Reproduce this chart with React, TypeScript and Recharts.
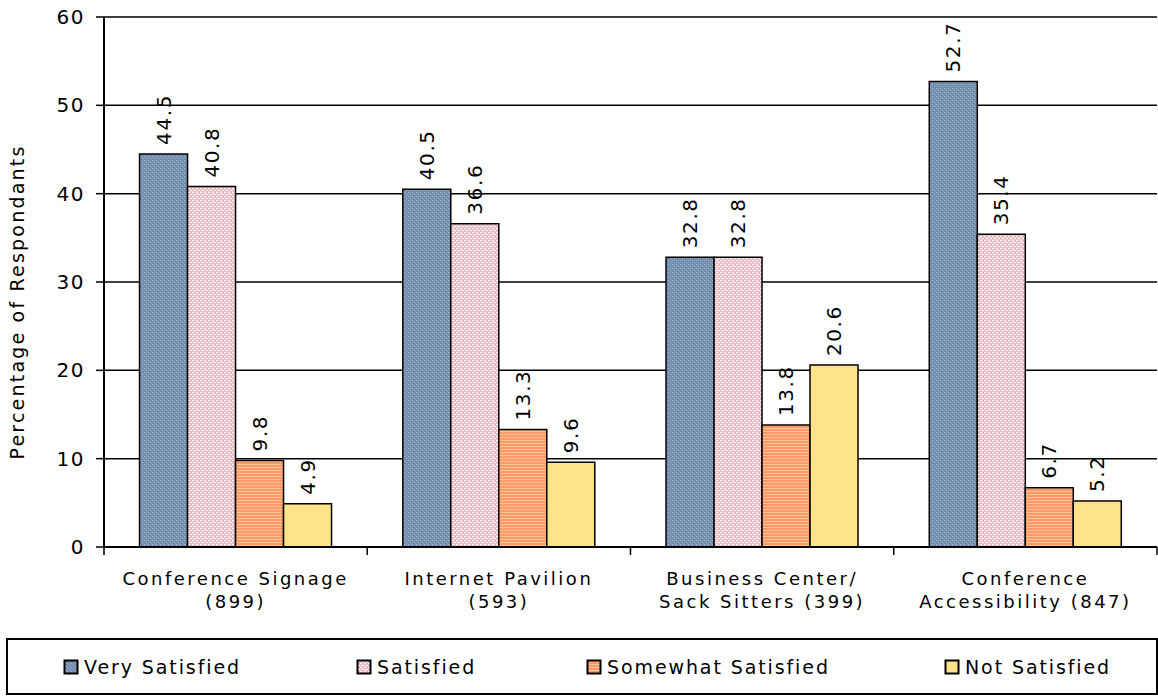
import React from 'react';
import { BarChart, Bar, XAxis, YAxis, CartesianGrid, Legend, LabelList } from 'recharts';

const categories = [
  'Conference Signage\n(899)',
  'Internet Pavilion\n(593)',
  'Business Center/\nSack Sitters (399)',
  'Conference\nAccessibility (847)',
];
const verySatisfied = [44.5, 40.5, 32.8, 52.7];
const satisfied = [40.8, 36.6, 32.8, 35.4];
const somewhatSatisfied = [9.8, 13.3, 13.8, 6.7];
const notSatisfied = [4.9, 9.6, 20.6, 5.2];
const yTicks = [0, 10, 20, 30, 40, 50, 60];
const seriesNames = ['Very Satisfied', 'Satisfied', 'Somewhat Satisfied', 'Not Satisfied'];
const seriesKeys = ['vs', 's', 'sw', 'ns'];
const seriesFills = ['url(#patBlue)', 'url(#patPink)', 'url(#patOrange)', '#FFE388'];

const data = categories.map((c, i) => ({
  name: c,
  vs: verySatisfied[i],
  s: satisfied[i],
  sw: somewhatSatisfied[i],
  ns: notSatisfied[i],
}));

const FONT = '"DejaVu Sans", Verdana, sans-serif';

const CatTick = (props: any) => {
  const { x, y, payload, width, visibleTicksCount, index } = props;
  const n = visibleTicksCount || categories.length;
  const band = (typeof width === 'number' ? width : 1053) / n;
  const lines = String(payload.value).split('\n');
  return (
    <g>
      <line x1={x - band / 2} x2={x - band / 2} y1={y} y2={y + 8} stroke="#000" strokeWidth={1.5} />
      {index === n - 1 && (
        <line x1={x + band / 2} x2={x + band / 2} y1={y} y2={y + 8} stroke="#000" strokeWidth={1.5} />
      )}
      <text x={x} y={y} textAnchor="middle" fontSize={18} fill="#000" fontFamily={FONT} style={{ letterSpacing: 2.5 }}>
        {lines.map((l, i) => (
          <tspan key={i} x={x} dy={i === 0 ? 38 : 23}>
            {l}
          </tspan>
        ))}
      </text>
    </g>
  );
};

const ValueLabel = (props: any) => {
  const { x, y, width, value } = props;
  const cx = x + width / 2;
  const cy = y - 9;
  return (
    <text
      x={cx}
      y={cy}
      transform={`rotate(-90 ${cx} ${cy})`}
      textAnchor="start"
      dominantBaseline="central"
      fontSize={20}
      fill="#000"
      fontFamily={FONT}
      style={{ letterSpacing: 1.6 }}
    >
      {Number(value).toFixed(1)}
    </text>
  );
};

const legendItemLeft = [55, 348, 578, 936];

const LegendBox = () => (
  <div
    style={{
      position: 'relative',
      width: '100%',
      height: '100%',
      border: '2px solid #000',
      boxSizing: 'border-box',
      fontFamily: FONT,
      fontSize: 19,
      color: '#000',
    }}
  >
    {seriesNames.map((n, i) => (
      <div
        key={n}
        style={{ position: 'absolute', left: legendItemLeft[i], top: 0, height: '100%', display: 'flex', alignItems: 'center' }}
      >
        <svg width={16} height={16} style={{ display: 'block' }}>
          <rect x={1.5} y={1.5} width={13} height={13} fill={seriesFills[i]} stroke="#000" strokeWidth={2} />
        </svg>
        <span style={{ marginLeft: 5, letterSpacing: 1.9 }}>{n}</span>
      </div>
    ))}
  </div>
);

export default function App() {
  return (
    <div style={{ position: 'absolute', left: 0, top: 0, width: 1158, height: 696, background: '#fff' }}>
      <BarChart
        width={1158}
        height={696}
        data={data}
        margin={{ top: 17, right: 1, left: 4, bottom: 79 }}
        barCategoryGap="13.5%"
        barGap={0}
      >
        <defs>
          <pattern id="patBlue" width="4" height="4" patternUnits="userSpaceOnUse">
            <rect width="4" height="4" fill="#7890B0" />
            <rect x="0" y="0" width="1" height="1" fill="#A9BBD2" />
            <rect x="2" y="2" width="1" height="1" fill="#A9BBD2" />
            <rect x="1" y="3" width="1" height="1" fill="#6A82A4" />
          </pattern>
          <pattern id="patPink" width="4" height="4" patternUnits="userSpaceOnUse">
            <rect width="4" height="4" fill="#EFC0C6" />
            <rect x="0" y="0" width="2" height="1" fill="#FFFFFF" />
            <rect x="2" y="2" width="2" height="1" fill="#FFFFFF" />
            <rect x="3" y="0" width="1" height="1" fill="#E4A6AE" />
          </pattern>
          <pattern id="patOrange" width="4" height="3" patternUnits="userSpaceOnUse">
            <rect width="4" height="3" fill="#FF9A66" />
            <rect x="0" y="2" width="4" height="1" fill="#FFC29A" />
          </pattern>
        </defs>
        <CartesianGrid horizontal vertical={false} stroke="#000" strokeWidth={1.5} strokeOpacity={1} />
        <XAxis
          dataKey="name"
          height={70}
          tick={<CatTick />}
          tickLine={false}
          tickSize={0}
          tickMargin={0}
          axisLine={{ stroke: '#000', strokeWidth: 2 }}
          interval={0}
        />
        <YAxis
          domain={[0, 60]}
          ticks={yTicks}
          width={100}
          tickSize={8}
          tickMargin={11}
          tickLine={{ stroke: '#000', strokeWidth: 1.5 }}
          axisLine={{ stroke: '#000', strokeWidth: 2 }}
          tick={{ fontSize: 20, fill: '#000', fontFamily: FONT, letterSpacing: 1.5 }}
          label={{
            value: 'Percentage of Respondants',
            angle: -90,
            position: 'center',
            dx: -37,
            dy: 20,
            style: { fontSize: 19, fill: '#000', fontFamily: FONT, textAnchor: 'middle', letterSpacing: 2.2 },
          }}
        />
        <YAxis
          yAxisId="r"
          orientation="right"
          domain={[0, 60]}
          width={0}
          tick={false}
          tickLine={false}
          axisLine={{ stroke: '#000', strokeWidth: 2 }}
        />
        <Legend
          layout="horizontal"
          verticalAlign="middle"
          align="center"
          wrapperStyle={{ position: 'absolute', left: 6, top: 638, width: 1152, height: 57 }}
          content={() => <LegendBox />}
        />
        {seriesKeys.map((k, i) => (
          <Bar
            key={k}
            dataKey={k}
            name={seriesNames[i]}
            fill={seriesFills[i]}
            stroke="#000"
            strokeWidth={1.5}
            isAnimationActive={false}
          >
            <LabelList dataKey={k} content={<ValueLabel />} />
          </Bar>
        ))}
      </BarChart>
    </div>
  );
}
